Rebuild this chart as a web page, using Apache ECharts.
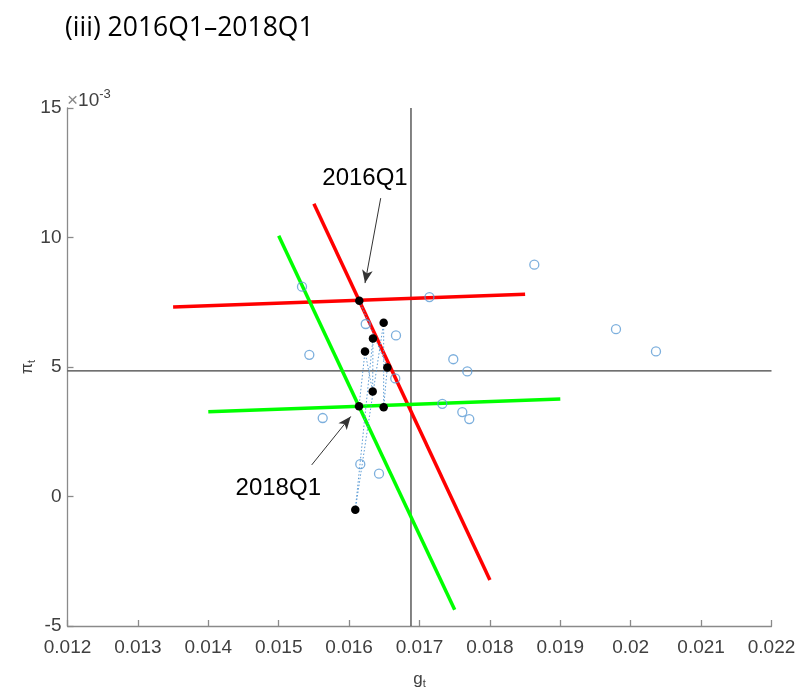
<!DOCTYPE html>
<html><head><meta charset="utf-8">
<script src="https://cdn.jsdelivr.net/npm/echarts@6/dist/echarts.min.js"></script>
<style>html,body{margin:0;padding:0;background:#fff}#c{width:796px;height:691px}</style>
</head><body><div id="c"></div>
<script>
// ---- data ----
const titleText = '(iii) 2016Q1\u20132018Q1';
const xMin = 0.012, xMax = 0.022, xStep = 0.001;
const yMin = -5, yMax = 15, yStep = 5;

// black dots: 2016Q1 ... 2018Q1 (model points)
const dotsG  = [0.016145, 0.016491, 0.016339, 0.016226, 0.016543, 0.016335, 0.016491, 0.016141, 0.016088];
const dotsPi = [7.56, 6.71, 6.10, 5.60, 4.98, 4.05, 3.45, 3.48, -0.51];
const pathOrder = [0, 4, 6, 1, 8, 2, 5, 3, 7];

// blue open circles
const circlesG  = [0.015331, 0.015435, 0.015625, 0.016236, 0.016666, 0.016656, 0.016159, 0.016425,
                   0.017141, 0.018631, 0.017480, 0.017679, 0.017324, 0.017608, 0.017707, 0.019791, 0.020359];
const circlesPi = [8.10, 5.47, 3.03, 6.66, 6.22, 4.56, 1.25, 0.88,
                   7.70, 8.95, 5.30, 4.83, 3.58, 3.26, 2.99, 6.46, 5.60];

// curves
const redSteepG = [0.0155, 0.0180],  redSteepPi = [11.30, -3.22];
const redFlatG  = [0.0135, 0.0185],  redFlatPi  = [7.32, 7.81];
const greenSteepG = [0.0150, 0.0175], greenSteepPi = [10.07, -4.37];
const greenFlatG  = [0.0140, 0.0190], greenFlatPi  = [3.27, 3.76];

// reference lines
const refG = 0.016879, refPi = 4.85;

// annotations
const annTexts = ['2016Q1', '2018Q1'];
const annG  = [0.016226, 0.014994], annPi = [12.27, 0.30];
const arrFromG = [0.016449, 0.015469], arrFromPi = [11.52, 1.22];
const arrToG   = [0.016226, 0.016023], arrToPi   = [8.24, 3.09];

// ---- build ----
const pairs = (a, b) => a.map((v, i) => [v, b[i]]);
const axisColor = '#8a8a8a', labelColor = '#404040';
const tickFont = 'Liberation Sans, Arial, sans-serif';

const chart = echarts.init(document.getElementById('c'));
chart.setOption({
  animation: false,
  backgroundColor: '#fff',
  title: {
    text: titleText, left: 60, top: 10,
    textStyle: { fontFamily: 'Open Sans', fontSize: 26.5, fontWeight: 'normal', color: '#000' }
  },
  grid: { left: 67.5, right: 24.5, top: 108, bottom: 65, containLabel: false, outerBoundsMode: 'none' },
  xAxis: {
    type: 'value', min: xMin, max: xMax, interval: xStep,
    name: '{p|g}{s|t}', nameLocation: 'middle', nameGap: 44, nameMoveOverlap: false,
    nameTextStyle: { rich: {
      p: { fontSize: 17, color: labelColor, fontFamily: tickFont },
      s: { fontSize: 11, color: labelColor, fontFamily: tickFont, padding: [8, 0, 0, 0] }
    } },
    axisLine: { show: true, onZero: false, lineStyle: { color: axisColor, width: 1.3 } },
    axisTick: { show: true, inside: true, length: 6, lineStyle: { color: axisColor, width: 1.3 } },
    splitLine: { show: false },
    axisLabel: { color: labelColor, fontSize: 19, fontFamily: tickFont, margin: 12,
      formatter: v => String(parseFloat(v.toFixed(4))) }
  },
  yAxis: {
    type: 'value', min: yMin, max: yMax, interval: yStep,
    name: '{p|\u03c0}{s|t}', nameLocation: 'middle', nameGap: 30, nameRotate: 90, nameMoveOverlap: false,
    nameTextStyle: { rich: {
      p: { fontSize: 16, color: labelColor, fontFamily: tickFont },
      s: { fontSize: 11, color: labelColor, fontFamily: tickFont, padding: [9, 0, 0, 0] }
    } },
    axisLine: { show: true, onZero: false, lineStyle: { color: axisColor, width: 1.3 } },
    axisTick: { show: true, inside: true, length: 6, lineStyle: { color: axisColor, width: 1.3 } },
    splitLine: { show: false },
    axisLabel: { color: labelColor, fontSize: 19, fontFamily: tickFont, margin: 6 }
  },
  graphic: [{
    type: 'text', left: 67, top: 88,
    style: {
      text: '{a|\u00d7}{b|10}{c|-3}',
      rich: {
        a: { fontSize: 19, fill: '#888', fontFamily: tickFont },
        b: { fontSize: 19, fill: labelColor, fontFamily: tickFont },
        c: { fontSize: 13, fill: labelColor, fontFamily: tickFont, padding: [0, 0, 12, 0] }
      }
    }
  }],
  series: [
    { type: 'line', data: [[refG, yMin], [refG, yMax]], symbol: 'none', silent: true,
      lineStyle: { color: '#404040', width: 1.3 }, z: 1 },
    { type: 'line', data: [[xMin, refPi], [xMax, refPi]], symbol: 'none', silent: true,
      lineStyle: { color: '#404040', width: 1.3 }, z: 1 },
    { type: 'line', data: pairs(redSteepG, redSteepPi), symbol: 'none', lineStyle: { color: '#ff0000', width: 3.5 }, z: 2 },
    { type: 'line', data: pairs(redFlatG, redFlatPi), symbol: 'none', lineStyle: { color: '#ff0000', width: 3.5 }, z: 2 },
    { type: 'line', data: pairs(greenSteepG, greenSteepPi), symbol: 'none', lineStyle: { color: '#00ff00', width: 3.5 }, z: 2 },
    { type: 'line', data: pairs(greenFlatG, greenFlatPi), symbol: 'none', lineStyle: { color: '#00ff00', width: 3.5 }, z: 2 },
    { type: 'line', data: pathOrder.map(i => [dotsG[i], dotsPi[i]]), symbol: 'none',
      lineStyle: { color: '#5b9bd5', width: 1, type: [1.5, 2] }, z: 3 },
    { type: 'scatter', data: pairs(circlesG, circlesPi), symbol: 'circle', symbolSize: 9,
      itemStyle: { color: 'rgba(255,255,255,0)', borderColor: '#5b9bd5', borderWidth: 1.3 }, z: 4 },
    { type: 'scatter', data: pairs(dotsG, dotsPi), symbol: 'circle', symbolSize: 8.5,
      itemStyle: { color: '#000', opacity: 1 }, z: 5 },
    { type: 'scatter', data: annTexts.map((t, i) => ({ value: [annG[i], annPi[i]], name: t })),
      symbolSize: 0, z: 6, silent: true,
      itemStyle: { opacity: 1 },
      label: { show: true, position: 'inside', formatter: p => p.name, color: '#000',
        fontSize: 24, fontFamily: tickFont, opacity: 1 },
      markLine: {
        silent: true, symbol: ['none', 'arrow'], symbolSize: [8, 13],
        label: { show: false },
        lineStyle: { color: '#333', width: 1, type: 'solid', opacity: 1 },
        data: arrFromG.map((g, i) => [{ coord: [g, arrFromPi[i]] }, { coord: [arrToG[i], arrToPi[i]] }])
      }
    }
  ]
});
</script>
</body></html>
